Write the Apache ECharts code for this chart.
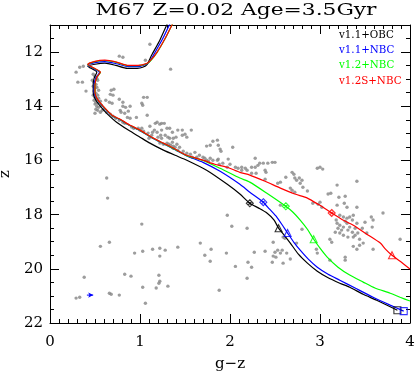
<!DOCTYPE html>
<html>
<head>
<meta charset="utf-8">
<script src="https://cdn.jsdelivr.net/npm/echarts@6/dist/echarts.min.js"></script>
<style>
html, body { margin: 0; padding: 0; background: #fff; }
#cmd { width: 415px; height: 376px; }
</style>
</head>
<body>
<div id="cmd"></div>
<script>
// M67 colour-magnitude diagram, g-z vs z
var titleText = 'M67 Z=0.02 Age=3.5Gyr';
var modelNames = ['v1.1+OBC', 'v1.1+NBC', 'v1.2+NBC', 'v1.2S+NBC'];
var modelColors = ['#000000', '#0000ff', '#00ff00', '#ff0000'];
var xTicks = [0, 1, 2, 3, 4];
var yTicks = [12, 14, 16, 18, 20, 22];

// observed stars [g-z, z]
var stars = [
    [1.11,11.71],[0.77,12.15],[0.81,12.19],[1.06,12.30],[0.33,12.56],[0.37,12.52],[0.29,12.74],[1.34,12.63],[0.31,13.11],[0.36,13.11],[0.40,13.44],
    [0.48,12.82],[0.50,12.89],[0.52,12.97],[0.47,13.04],[0.49,13.11],[0.51,13.19],[0.53,13.04],[0.48,13.26],[0.50,13.33],[0.52,13.30],[0.54,13.41],
    [0.49,13.44],[0.51,13.52],[0.53,13.59],[0.48,13.59],[0.50,13.67],[0.52,13.74],[0.54,13.70],[0.49,13.78],[0.51,13.85],[0.53,13.89],[0.56,13.81],
    [0.50,13.92],[0.52,14.00],[0.54,14.04],[0.57,13.96],[0.51,14.11],[0.53,14.15],[0.56,14.22],[0.58,14.15],
    [0.68,13.41],[0.71,13.37],[0.67,13.56],[0.70,13.59],[0.77,13.74],[0.62,13.78],[0.66,13.85],[0.69,13.89],[1.04,13.67],[1.08,13.67],[1.02,13.89],
    [1.03,13.96],[0.81,14.00],[0.84,14.04],[0.89,14.00],[0.87,14.18],[0.78,14.15],[0.79,14.22],[0.50,14.26],[1.08,14.33],[0.86,14.41],[0.89,14.44],
    [0.96,14.41],[0.81,14.59],[0.83,14.63],[1.24,14.63],[1.27,14.63],[1.11,14.74],[0.91,14.77],[0.93,14.81],
    [0.60,14.11],[0.63,14.22],[0.67,14.29],[0.70,14.37],[0.73,14.44],[0.77,14.52],[0.81,13.85],[0.83,14.26],
    [0.98,14.81],[1.00,14.88],[1.02,14.81],[1.17,14.63],[1.19,14.59],[1.22,14.66],[1.14,14.96],[1.19,14.96],[1.24,14.88],[1.30,14.81],[1.33,14.81],
    [1.36,14.96],[1.42,14.88],[1.47,14.88],[1.57,14.88],[1.50,15.03],[1.20,15.14],[1.24,15.18],[1.31,15.14],[1.33,15.18],[1.37,15.18],[1.30,15.36],
    [1.32,15.40],[1.34,15.44],[1.37,15.47],[1.39,15.51],[1.37,15.55],[1.22,15.36],[1.26,15.40],[1.10,15.18],[1.48,15.66],[1.52,15.73],[1.56,15.77],
    [1.58,15.88],[1.63,15.88],[1.74,15.47],[1.78,15.44],[1.81,15.29],[1.86,15.25],[1.87,15.44],[1.89,15.58],[1.90,15.66],[2.03,15.51],[1.70,15.88],
    [1.72,15.92],[1.74,15.99],[1.76,16.03],[1.78,15.92],[1.86,15.99],[1.92,16.10],[1.97,16.25],[2.00,16.14],[2.06,16.25],[2.09,16.29],[2.13,16.25],
    [2.17,16.29],[2.19,16.36],
    [1.04,14.92],[1.09,14.99],[1.13,15.07],[1.44,15.51],[1.61,15.70],[1.66,15.81],[1.81,15.99],[1.88,16.14],
    [1.16,14.88],[1.40,15.14],[1.52,15.14],[1.47,15.07],[1.36,15.33],[1.41,15.40],[1.42,15.62],[1.28,15.07],[1.23,15.07],[1.87,15.95],[1.98,15.95],[2.28,15.92],
    [2.24,16.25],[2.28,16.25],[2.31,16.18],[2.33,16.10],[2.37,16.10],[2.42,16.10],[2.47,16.07],[2.50,16.07],[2.39,16.36],[2.40,16.44],[2.24,16.47],
    [2.29,16.47],[2.39,16.69],[2.13,16.36],[2.69,16.44],[2.71,16.51],[2.72,16.65],[2.74,16.73],[2.77,16.65],[2.80,16.73],[2.78,16.84],[2.81,16.99],
    [2.56,16.80],[2.53,16.84],[2.62,16.62],[2.67,17.02],[2.69,17.10],[2.72,17.17],[2.86,17.13],[2.97,16.29],[3.00,16.25],[3.03,16.32],[3.19,16.91],
    [3.41,16.77],[3.09,17.24],[3.12,17.21],[3.21,17.36],[3.28,17.32],[3.27,17.58],[3.00,17.54],[2.92,17.58],[2.56,17.65],[3.41,17.73],
    [2.98,17.62],[3.02,17.73],[3.19,17.65],[3.30,17.73],[3.70,17.94],[3.22,18.02],[3.26,18.09],[3.30,18.13],[3.33,18.09],[3.37,18.02],[3.19,18.32],
    [3.22,18.39],[3.20,18.50],[3.24,18.57],[3.26,18.46],[3.30,18.32],[3.33,18.46],[3.36,18.65],[3.39,18.50],[3.41,18.32],[3.42,18.68],[3.22,18.68],
    [3.26,18.76],[3.31,18.83],[3.37,18.83],[3.17,18.65],[3.57,18.09],[3.58,18.46],[3.52,18.68],[3.44,19.13],[3.48,19.05],[3.59,19.28],[3.37,19.17],
    [3.41,19.28],[3.89,18.91],[2.19,18.50],[2.48,19.02],[2.59,18.83],[2.61,18.87],[2.74,19.05],[2.80,18.54],[2.27,19.39],[2.39,19.35],[2.50,19.39],
    [2.53,19.31],[2.58,19.31],[2.56,19.42],[2.48,19.53],[2.51,19.57],[2.63,19.42],[2.67,19.64],[2.20,19.76],[2.24,19.94],[2.47,19.76],[2.59,19.79],
    [2.19,20.35],[2.96,19.28],[2.97,19.42],[3.11,19.68],[3.28,19.57],[3.28,19.68],[3.11,18.91],[3.13,19.02],[3.59,18.20],
    [3.18,18.20],[3.28,18.24],[3.36,18.20],[3.39,18.76],[3.31,18.57],[3.47,18.50],[3.50,18.28],[3.44,18.91],
    [0.63,16.65],[0.64,17.39],[1.02,18.35],[1.97,18.02],[2.02,18.43],[0.56,19.17],[0.66,19.02],[0.94,19.42],[1.03,19.35],[1.14,19.28],[1.22,19.24],
    [1.28,19.31],[1.22,19.53],[1.42,19.20],[1.67,19.05],[1.72,19.50],[1.79,19.28],[1.78,19.72],[1.96,19.42],[2.06,19.91],[0.38,20.31],[0.83,20.20],
    [0.90,20.27],[1.21,20.24],[1.22,20.46],[1.21,20.53],[1.03,20.68],[1.18,20.71],[1.31,20.64],[1.88,20.79],[0.66,20.90],[0.68,20.94],[0.77,20.97],
    [0.29,21.08],[0.33,21.05],[1.06,21.27]
];

// isochrones [g-z, z]
var isoOBC11 = [
    [1.31,10.90],[1.22,11.56],[1.13,12.11],[1.08,12.45],[1.03,12.56],[0.97,12.60],[0.86,12.60],[0.73,12.49],[0.61,12.41],[0.50,12.45],[0.42,12.52],
    [0.52,12.74],[0.49,12.97],[0.48,13.22],[0.48,13.48],[0.51,13.78],[0.57,14.04],[0.63,14.26],[0.74,14.59],[0.87,14.88],[1.00,15.14],[1.11,15.36],
    [1.26,15.62],[1.39,15.81],[1.52,15.99],[1.74,16.36],[1.97,16.88],[2.11,17.24],[2.22,17.58],[2.32,17.76],[2.41,17.94],[2.49,18.20],[2.54,18.50],
    [2.61,18.79],[2.67,19.05],[2.76,19.46],[2.86,19.79],[2.97,20.09],[3.08,20.31],[3.22,20.53],[3.33,20.68],[3.48,20.94],[3.63,21.16],[3.86,21.53]
];
var isoNBC11 = [
    [1.34,10.90],[1.25,11.52],[1.16,12.05],[1.10,12.38],[1.05,12.47],[0.97,12.54],[0.87,12.54],[0.74,12.43],[0.61,12.35],[0.50,12.39],[0.42,12.48],
    [0.55,12.75],[0.51,12.95],[0.49,13.22],[0.49,13.48],[0.52,13.73],[0.58,13.98],[0.69,14.35],[0.78,14.50],[0.89,14.72],[1.00,14.90],[1.13,15.16],
    [1.26,15.38],[1.39,15.60],[1.52,15.83],[1.70,16.07],[1.89,16.40],[2.11,16.88],[2.22,17.17],[2.37,17.54],[2.44,17.80],[2.52,18.09],[2.59,18.43],
    [2.64,18.68],[2.71,19.02],[2.78,19.31],[2.87,19.64],[2.97,19.94],[3.09,20.20],[3.22,20.42],[3.39,20.71],[3.59,21.05],[3.78,21.34],[3.93,21.56]
];
var isoNBC12 = [
    [1.37,10.90],[1.28,11.50],[1.19,12.01],[1.12,12.31],[1.08,12.42],[0.98,12.50],[0.87,12.50],[0.74,12.38],[0.61,12.31],[0.50,12.35],[0.42,12.46],
    [0.56,12.75],[0.52,12.94],[0.50,13.23],[0.50,13.49],[0.52,13.71],[0.58,13.97],[0.69,14.34],[0.78,14.49],[0.89,14.71],[1.00,14.89],[1.13,15.15],
    [1.26,15.37],[1.39,15.59],[1.52,15.82],[1.70,16.00],[1.89,16.29],[2.11,16.65],[2.22,16.80],[2.41,17.21],[2.62,17.69],[2.70,17.91],[2.78,18.20],
    [2.86,18.54],[2.93,18.91],[3.00,19.24],[3.08,19.57],[3.20,19.94],[3.33,20.23],[3.48,20.49],[3.61,20.71],[3.78,20.90],[3.89,21.05],[4.00,21.19]
];
var isoNBC12S = [
    [1.37,10.90],[1.28,11.49],[1.19,12.00],[1.12,12.30],[1.08,12.41],[0.98,12.49],[0.87,12.49],[0.74,12.37],[0.61,12.30],[0.50,12.34],[0.42,12.45],
    [0.56,12.74],[0.52,12.93],[0.50,13.22],[0.50,13.48],[0.52,13.70],[0.58,13.96],[0.69,14.33],[0.78,14.48],[0.89,14.70],[1.00,14.88],[1.13,15.14],
    [1.26,15.36],[1.39,15.58],[1.52,15.81],[1.70,15.99],[1.83,16.14],[1.97,16.25],[2.11,16.44],[2.22,16.54],[2.39,16.77],[2.56,17.02],[2.72,17.24],
    [2.86,17.39],[2.98,17.62],[3.08,17.83],[3.13,17.94],[3.24,18.17],[3.37,18.39],[3.52,18.72],[3.67,19.05],[3.73,19.28],[3.80,19.50],[3.89,19.72],
    [4.00,20.01]
];

// mass markers on each isochrone: diamond, triangle, square
var markOBC11 = [[2.22,17.58],[2.54,18.50],[3.86,21.53]];
var markNBC11 = [[2.37,17.54],[2.64,18.68],[3.93,21.56]];
var markNBC12 = [[2.62,17.69],[2.93,18.91]];
var markNBC12S = [[3.13,17.94],[3.80,19.50]];

// reddening arrow
var arrowPts = [[0.41,20.97],[0.48,20.97]];

var isochrones = [isoOBC11, isoNBC11, isoNBC12, isoNBC12S];
var markers = [markOBC11, markNBC11, markNBC12, markNBC12S];
var markShapes = ['path://M5,0L10,5L5,10L0,5Z M2.5,2.5L7.5,7.5 M2.5,7.5L7.5,2.5', 'triangle', 'rect'];

var serif = '"DejaVu Serif", "Liberation Serif", serif';
var chart = echarts.init(document.getElementById('cmd'));

function xAxisDef(pos, withLabels) {
    return {
        type: 'value',
        position: pos,
        min: 0,
        max: 4,
        interval: 1,
        name: withLabels ? 'g\u2212z' : '',
        nameLocation: 'middle',
        nameGap: 34,
        nameTextStyle: { fontFamily: serif, fontSize: 15, color: '#000' },
        axisLine: { show: true, onZero: false, lineStyle: { color: '#000', width: 1 } },
        axisTick: { show: true, inside: true, length: 9, lineStyle: { color: '#000' } },
        minorTick: { show: true, splitNumber: 10, length: 4, lineStyle: { color: '#000' } },
        axisLabel: {
            show: withLabels, margin: 12, fontFamily: serif, fontSize: 15, color: '#000',
            customValues: xTicks
        },
        splitLine: { show: false }
    };
}

function yAxisDef(pos, major, withLabels) {
    var ax = {
        type: 'value',
        position: pos,
        min: 11,
        max: 22,
        inverse: true,
        axisLine: { show: major, onZero: false, lineStyle: { color: '#000', width: 1 } },
        splitLine: { show: false }
    };
    if (major) {
        ax.axisTick = { show: true, inside: true, length: 9, customValues: yTicks, lineStyle: { color: '#000' } };
        ax.axisLabel = { show: withLabels, margin: 7, fontFamily: serif, fontSize: 15, color: '#000', customValues: yTicks };
        if (withLabels) {
            ax.name = 'z';
            ax.nameLocation = 'middle';
            ax.nameGap = 34;
            ax.nameRotate = 90;
            ax.nameTextStyle = { fontFamily: serif, fontSize: 15, color: '#000' };
        }
    } else {
        ax.interval = 0.5;
        ax.axisTick = { show: true, inside: true, length: 4, lineStyle: { color: '#000' } };
        ax.axisLabel = { show: false };
    }
    return ax;
}

var series = [{
    name: 'stars',
    type: 'scatter',
    xAxisIndex: 0,
    yAxisIndex: 0,
    symbolSize: 3.4,
    itemStyle: { color: '#858585' },
    silent: true,
    data: stars
}];

isochrones.forEach(function (iso, i) {
    series.push({
        name: modelNames[i],
        type: 'line',
        xAxisIndex: 0,
        yAxisIndex: 0,
        showSymbol: false,
        smooth: 0.2,
        lineStyle: { color: modelColors[i], width: 1.2 },
        itemStyle: { color: modelColors[i] },
        silent: true,
        data: iso
    });
});

markers.forEach(function (pts, i) {
    series.push({
        name: modelNames[i],
        type: 'scatter',
        xAxisIndex: 0,
        yAxisIndex: 0,
        symbol: function (val, params) { return markShapes[params.dataIndex]; },
        symbolSize: 7,
        itemStyle: { color: 'rgba(0,0,0,0)', borderColor: modelColors[i], borderWidth: 1.1 },
        silent: true,
        z: 5,
        data: pts
    });
});

series.push({
    name: 'arrow',
    type: 'line',
    xAxisIndex: 0,
    yAxisIndex: 0,
    lineStyle: { color: '#0000ff', width: 1 },
    itemStyle: { color: '#0000ff' },
    silent: true,
    data: [
        { value: arrowPts[0], symbol: 'none' },
        { value: arrowPts[1], symbol: 'arrow', symbolRotate: -90, symbolSize: [4, 5] }
    ]
});

var option = {
    animation: false,
    backgroundColor: '#ffffff',
    grid: { left: 50, right: 5, top: 25, bottom: 53, containLabel: false, outerBoundsMode: 'none' },
    graphic: [{
        type: 'text',
        x: 236,
        y: 3,
        scaleX: 1.36,
        style: {
            text: titleText,
            font: '16px ' + serif,
            fill: '#000',
            align: 'center',
            verticalAlign: 'top'
        }
    }],
    legend: {
        orient: 'vertical',
        left: 334,
        top: 29,
        padding: 0,
        itemWidth: 0,
        itemHeight: 12,
        itemGap: 4.3,
        icon: 'none',
        selectedMode: false,
        textStyle: { fontFamily: serif, fontSize: 10.3 },
        data: modelNames.map(function (n, i) {
            return { name: n, textStyle: { color: modelColors[i] } };
        })
    },
    xAxis: [xAxisDef('bottom', true), xAxisDef('top', false)],
    yAxis: [yAxisDef('left', true, true), yAxisDef('left', false, false), yAxisDef('right', true, false), yAxisDef('right', false, false)],
    series: series
};
chart.setOption(option);
</script>
</body>
</html>
